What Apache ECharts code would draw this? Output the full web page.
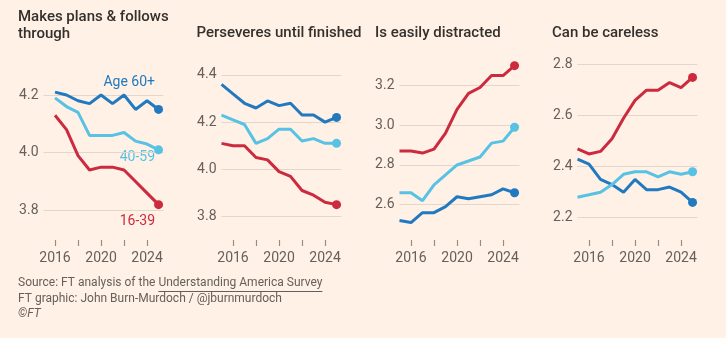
<!DOCTYPE html>
<html><head><meta charset="utf-8">
<script src="https://cdn.jsdelivr.net/npm/echarts@6/dist/echarts.min.js"></script>
<style>html,body{margin:0;padding:0;background:#fff1e5;}#c{width:726px;height:338px;}</style>
</head><body><div id="c"></div>
<script>
// ---- data ----
const years = [2015,2016,2017,2018,2019,2020,2021,2022,2023,2024,2025];
const years1 = [2016,2017,2018,2019,2020,2021,2022,2023,2024,2025];
const titles = ["Makes plans & follows\nthrough", "Perseveres until finished", "Is easily distracted", "Can be careless"];
const groups = ["Age 60+", "40-59", "16-39"];
const xTickLabels = [2016, 2020, 2024];
const xTicks = [2016, 2018, 2020, 2022, 2024];

const plans_60 = [4.21, 4.20, 4.18, 4.17, 4.20, 4.17, 4.20, 4.15, 4.18, 4.15];
const plans_40 = [4.19, 4.16, 4.14, 4.06, 4.06, 4.06, 4.07, 4.04, 4.03, 4.01];
const plans_16 = [4.13, 4.08, 3.99, 3.94, 3.95, 3.95, 3.94, 3.90, 3.86, 3.82];

const pers_60 = [4.36, 4.32, 4.28, 4.26, 4.29, 4.27, 4.28, 4.23, 4.23, 4.20, 4.22];
const pers_40 = [4.23, 4.21, 4.19, 4.11, 4.13, 4.17, 4.17, 4.12, 4.13, 4.11, 4.11];
const pers_16 = [4.11, 4.10, 4.10, 4.05, 4.04, 3.99, 3.97, 3.91, 3.89, 3.86, 3.85];

const dist_60 = [2.52, 2.51, 2.56, 2.56, 2.59, 2.64, 2.63, 2.64, 2.65, 2.68, 2.66];
const dist_40 = [2.66, 2.66, 2.62, 2.70, 2.75, 2.80, 2.82, 2.84, 2.91, 2.92, 2.99];
const dist_16 = [2.87, 2.87, 2.86, 2.88, 2.96, 3.08, 3.16, 3.19, 3.25, 3.25, 3.30];

const care_60 = [2.43, 2.41, 2.35, 2.33, 2.30, 2.35, 2.31, 2.31, 2.32, 2.30, 2.26];
const care_40 = [2.28, 2.29, 2.30, 2.33, 2.37, 2.38, 2.38, 2.36, 2.38, 2.37, 2.38];
const care_16 = [2.47, 2.45, 2.46, 2.51, 2.59, 2.66, 2.70, 2.70, 2.73, 2.71, 2.75];

const yTicks1 = [3.8, 4.0, 4.2];
const yTicks2 = [3.8, 4.0, 4.2, 4.4];
const yTicks3 = [2.6, 2.8, 3.0, 3.2];
const yTicks4 = [2.2, 2.4, 2.6, 2.8];

const sourcePrefix = 'Source: FT analysis of the ';
const sourceLink = 'Understanding America Survey';
const credit = 'FT graphic: John Burn-Murdoch / @jburnmurdoch';

// ---- layout / style ----
const C60 = '#2179c0', C40 = '#58c2e4', C16 = '#cc2a3e';
const FONT = 'Roboto';
const TITLE_FONT = '500 15px ' + FONT;
const FOOT_FONT = '12px ' + FONT;
const TICK_COLOR = '#968d86';
const X_MIN = 2015, X_MAX = 2025.43, GRID_W = 120, GRID_TOP = 55, GRID_H = 185, TICK_LEN = 6;
const PX_PER_YEAR = GRID_W / (X_MAX - X_MIN);
const panels = [
  {x: years1, s: [plans_60, plans_40, plans_16], yt: yTicks1, min: 3.6974, max: 4.3387, left: 43.5},
  {x: years,  s: [pers_60, pers_40, pers_16],   yt: yTicks2, min: 3.700,  max: 4.4848, left: 221.5},
  {x: years,  s: [dist_60, dist_40, dist_16],   yt: yTicks3, min: 2.4223, max: 3.3535, left: 399.5},
  {x: years,  s: [care_60, care_40, care_16],   yt: yTicks4, min: 2.1125, max: 2.838,  left: 577.5}
];
const colors = [C60, C40, C16];

const grid = [], xAxis = [], yAxis = [], series = [];
panels.forEach((p, i) => {
  grid.push({left: p.left, width: GRID_W, top: GRID_TOP, height: GRID_H, containLabel: false});
  xAxis.push({
    type: 'value', gridIndex: i, min: X_MIN, max: X_MAX,
    axisLine: {show: false}, axisTick: {show: false}, axisLabel: {show: false}, splitLine: {show: false}
  });
  yAxis.push({
    type: 'value', gridIndex: i, min: p.min, max: p.max,
    axisLine: {show: false},
    axisTick: {show: false, customValues: p.yt},
    axisLabel: {customValues: p.yt, color: '#66605c', fontFamily: FONT, fontSize: 14, margin: 5,
      formatter: v => v.toFixed(1)},
    splitLine: {show: true, lineStyle: {color: '#e3d6cb', width: 1}}
  });
  [2, 1, 0].forEach(k => {
    const vals = p.s[k];
    const last = vals.length - 1;
    series.push({
      type: 'line', xAxisIndex: i, yAxisIndex: i, clip: false,
      data: vals.map((v, j) => [p.x[j], v]),
      lineStyle: {color: colors[k], width: 3},
      itemStyle: {color: colors[k]},
      symbol: 'circle', showSymbol: true, showAllSymbol: true,
      symbolSize: (v, params) => params.dataIndex === last ? 9 : 0,
      animation: false, silent: true, z: 3 + k
    });
  });
});
// label strips below each panel: same x scale, spanning first to last tick year
panels.forEach((p, i) => {
  const gi = panels.length + i;
  const t0 = xTicks[0], t1 = xTicks[xTicks.length - 1];
  grid.push({left: p.left + (t0 - X_MIN) * PX_PER_YEAR, width: (t1 - t0) * PX_PER_YEAR, top: GRID_TOP + GRID_H, height: TICK_LEN});
  xAxis.push({
    type: 'value', gridIndex: gi, min: t0, max: t1, interval: xTicks[1] - xTicks[0],
    axisLine: {show: false}, axisTick: {show: false},
    axisLabel: {show: true, color: '#66605c', fontFamily: FONT, fontSize: 14, margin: 5,
      showMinLabel: true, showMaxLabel: true,
      formatter: v => xTickLabels.indexOf(v) >= 0 ? String(v) : ''},
    splitLine: {show: false}
  });
  yAxis.push({type: 'value', gridIndex: gi, min: 0, max: 1, show: false});
});

// measure footer text for the underline under the link
const mctx = document.createElement('canvas').getContext('2d');
mctx.font = FOOT_FONT;
const ulStart = 18 + mctx.measureText(sourcePrefix).width;
const ulEnd = ulStart + mctx.measureText(sourceLink).width;

const graphic = [
  {type: 'text', left: 18, top: 9, style: {text: titles[0], font: TITLE_FONT, fill: '#33302e', lineHeight: 17}},
  {type: 'text', left: 196.5, top: 26, style: {text: titles[1], font: TITLE_FONT, fill: '#33302e'}},
  {type: 'text', left: 375, top: 26, style: {text: titles[2], font: TITLE_FONT, fill: '#33302e'}},
  {type: 'text', left: 552, top: 26, style: {text: titles[3], font: TITLE_FONT, fill: '#33302e'}},
  {type: 'text', right: 726 - 155, top: 75, style: {text: groups[0], font: '14px ' + FONT, fill: C60, align: 'right'}},
  {type: 'text', right: 726 - 155, top: 150, style: {text: groups[1], font: '14px ' + FONT, fill: C40, align: 'right'}},
  {type: 'text', right: 726 - 155, top: 214, style: {text: groups[2], font: '14px ' + FONT, fill: C16, align: 'right'}},
  {type: 'text', left: 18, top: 277, style: {text: sourcePrefix + sourceLink, font: FOOT_FONT, fill: '#66605c'}},
  {type: 'line', shape: {x1: ulStart, y1: 291.5, x2: ulEnd, y2: 291.5}, style: {stroke: '#66605c', lineWidth: 1}},
  {type: 'text', left: 18, top: 293, style: {text: credit, font: FOOT_FONT, fill: '#66605c'}},
  {type: 'text', left: 18, top: 308, style: {text: '\u00A9FT', font: 'italic ' + FOOT_FONT, fill: '#66605c'}}
];

const chart = echarts.init(document.getElementById('c'), null, {renderer: 'canvas'});
chart.setOption({backgroundColor: '#fff1e5', animation: false, grid, xAxis, yAxis, series, graphic});

// x-axis tick marks, placed through each panel's own x scale
const tickEls = [];
panels.forEach((p, i) => {
  xTicks.forEach(t => {
    const pt = chart.convertToPixel({xAxisIndex: i, yAxisIndex: i}, [t, p.min]);
    const px = Math.round(pt[0]) + 0.5;
    const py = GRID_TOP + GRID_H;
    tickEls.push({type: 'line', silent: true, z: 100,
      shape: {x1: px, y1: py, x2: px, y2: py + TICK_LEN},
      style: {stroke: TICK_COLOR, lineWidth: 1.2}});
  });
});
chart.setOption({graphic: graphic.concat(tickEls)});
</script>
</body></html>
